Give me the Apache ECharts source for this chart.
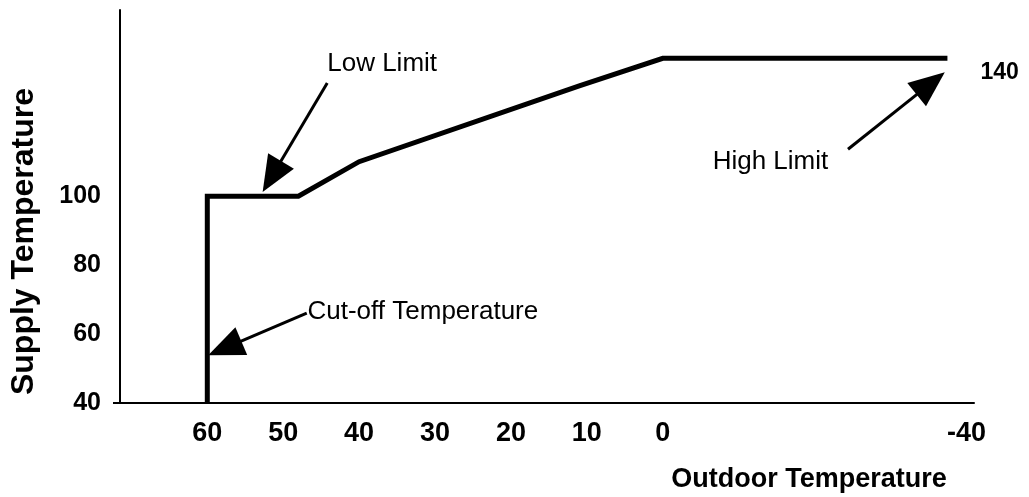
<!DOCTYPE html>
<html>
<head>
<meta charset="utf-8">
<script src="https://cdn.jsdelivr.net/npm/echarts@6/dist/echarts.min.js"></script>
<style>
html, body { margin: 0; padding: 0; background: #fff; }
#main { width: 1029px; height: 497px; }
</style>
</head>
<body>
<div id="main"></div>
<script>
// reset curve: outdoor temperature -> supply temperature
var outdoorTemps = [60, 60, 48, 40, 11, 0, -37.5];
var supplyTemps = [40, 100, 100, 110, 132, 140, 140];
var xTickValues = [60, 50, 40, 30, 20, 10, 0, -40];
var yTickValues = [40, 60, 80, 100];

// callouts, in chart units (outdoor, supply)
var noteNames = ['Low Limit', 'Cut-off Temperature', 'High Limit'];
var noteFrom = [[44.2, 132.8], [46.9, 66.1], [-24.4, 113.6]];
var noteTo = [[51.5, 105.7], [57.7, 55.9], [-35.3, 132.7]];
var noteText = [[44.2, 138.3], [46.8, 66.4], [-21.8, 110.1]];

var font = "'Liberation Sans', Arial, sans-serif";

var myChart = echarts.init(document.getElementById('main'));

var curve = outdoorTemps.map(function (t, i) { return [t, supplyTemps[i]]; });
var last = curve[curve.length - 1];

var pointLabels = noteNames.map(function (n, i) {
    return {
        name: n,
        coord: noteText[i],
        label: { position: i === 2 ? 'left' : 'right', fontSize: 26, fontWeight: 'normal' }
    };
});
pointLabels.push({
    name: String(last[1]),
    coord: last,
    label: { position: 'right', offset: [33, 14], fontSize: 23, fontWeight: 'bold' }
});

var option = {
    animation: false,
    grid: { left: 120, right: 55, top: 10, bottom: 94, outerBoundsMode: 'none' },
    xAxis: {
        type: 'value',
        inverse: true,
        min: -41,
        max: 71.5,
        axisLine: { show: true, onZero: false, lineStyle: { color: '#000', width: 2 } },
        axisTick: { show: false },
        splitLine: { show: false },
        axisLabel: {
            customValues: xTickValues,
            margin: 17,
            color: '#000',
            fontFamily: font,
            fontSize: 27,
            fontWeight: 'bold'
        },
        name: 'Outdoor Temperature',
        nameLocation: 'middle',
        nameGap: 63,
        nameTextStyle: {
            color: '#000',
            fontFamily: font,
            fontSize: 27,
            fontWeight: 'bold',
            verticalAlign: 'top',
            padding: [0, 0, 0, 524]
        }
    },
    yAxis: {
        type: 'value',
        min: 40,
        max: 154,
        axisLine: { show: true, onZero: false, lineStyle: { color: '#000', width: 2 } },
        axisTick: { show: true, customValues: [40], length: 7, lineStyle: { color: '#000', width: 2 } },
        splitLine: { show: false },
        axisLabel: {
            customValues: yTickValues,
            margin: 19,
            color: '#000',
            fontFamily: font,
            fontSize: 25,
            fontWeight: 'bold'
        },
        name: 'Supply Temperature',
        nameLocation: 'middle',
        nameRotate: 90,
        nameGap: 80,
        nameTextStyle: {
            color: '#000',
            fontFamily: font,
            fontSize: 32,
            fontWeight: 'bold',
            padding: [0, 70, 0, 0]
        }
    },
    series: [
        {
            type: 'line',
            data: curve,
            symbol: 'none',
            silent: true,
            lineStyle: { color: '#000', width: 5, join: 'miter' },
            markLine: {
                silent: true,
                symbol: ['none', 'triangle'],
                symbolSize: [30, 36],
                label: { show: false },
                lineStyle: { color: '#000', width: 3, type: 'solid' },
                data: noteFrom.map(function (f, i) {
                    return [{ coord: f }, { coord: noteTo[i] }];
                })
            },
            markPoint: {
                silent: true,
                symbol: 'circle',
                symbolSize: 0,
                label: {
                    show: true,
                    formatter: '{b}',
                    distance: 0,
                    color: '#000',
                    fontFamily: font
                },
                data: pointLabels
            }
        }
    ]
};

myChart.setOption(option);
</script>
</body>
</html>
